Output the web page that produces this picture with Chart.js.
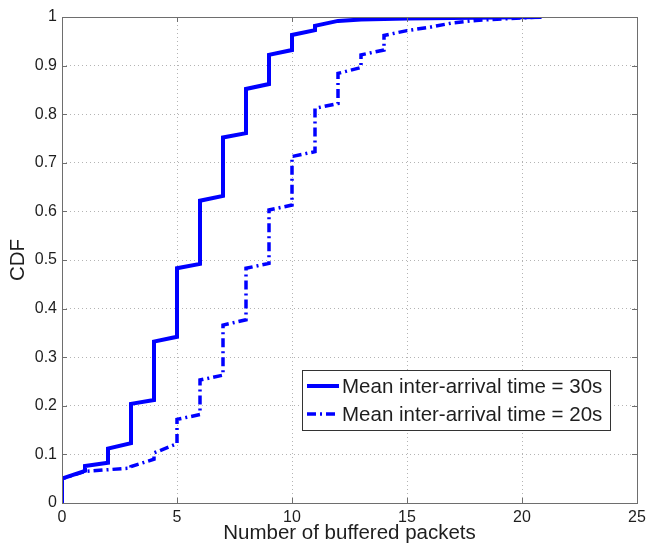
<!DOCTYPE html>
<html>
<head>
<meta charset="utf-8">
<script src="https://cdn.jsdelivr.net/npm/chart.js@4.4.1/dist/chart.umd.min.js"></script>
<style>
  html, body { margin: 0; padding: 0; background: #ffffff; }
  #wrap { width: 646px; height: 547px; }
</style>
</head>
<body>
<div id="wrap"><canvas id="c" width="646" height="547"></canvas></div>
<script>
// ---- Data ----
const seriesLabels = ['Mean inter-arrival time = 30s', 'Mean inter-arrival time = 20s'];

const x30 = [0, 0, 1, 1, 2, 2, 3, 3, 4, 4, 5, 5, 6, 6, 7, 7, 8, 8, 9, 9, 10, 10, 11, 11, 12, 13, 15, 20.85];
const y30 = [0, 0.05, 0.066, 0.076, 0.083, 0.112, 0.123, 0.204, 0.212, 0.332, 0.342, 0.483, 0.492, 0.622, 0.632, 0.752, 0.761, 0.852, 0.862, 0.922, 0.932, 0.963, 0.973, 0.982, 0.992, 0.995, 0.997, 1.0];

const x20 = [0, 0, 1, 3, 3, 4, 4, 5, 5, 6, 6, 7, 7, 8, 8, 9, 9, 10, 10, 11, 11, 12, 12, 13, 13, 14, 14, 15, 16, 17, 18, 20, 20.85];
const y20 = [0, 0.05, 0.065, 0.072, 0.075, 0.09, 0.103, 0.122, 0.172, 0.182, 0.253, 0.263, 0.366, 0.377, 0.483, 0.493, 0.603, 0.613, 0.713, 0.723, 0.812, 0.822, 0.884, 0.896, 0.922, 0.932, 0.962, 0.972, 0.979, 0.988, 0.993, 0.998, 1.0];

const xTicks = [0, 5, 10, 15, 20, 25];
const yTicks = [0, 0.1, 0.2, 0.3, 0.4, 0.5, 0.6, 0.7, 0.8, 0.9, 1];

const xTitle = 'Number of buffered packets';
const yTitle = 'CDF';

// ---- Build ----
function pts(xs, ys) { return xs.map((x, i) => ({ x: x, y: ys[i] })); }

const BLUE = '#0000ff';
const DASHDOT = [9, 4, 2, 4];
const FONT = "'Liberation Sans', Arial, sans-serif";
const TEXT = '#1e1e1e';

const boxPlugin = {
  id: 'boxPlugin',
  afterDraw(chart) {
    const ctx = chart.ctx;
    const a = chart.chartArea;
    const xs = chart.scales.x, ys = chart.scales.y;
    ctx.save();
    ctx.strokeStyle = '#6e6e6e';
    ctx.lineWidth = 1;
    ctx.setLineDash([]);
    ctx.strokeRect(Math.round(a.left) + 0.5, Math.round(a.top) + 0.5, Math.round(a.right - a.left), Math.round(a.bottom - a.top));
    const tl = 5;
    ctx.beginPath();
    xTicks.forEach(v => {
      const px = Math.round(xs.getPixelForValue(v)) + 0.5;
      ctx.moveTo(px, a.bottom); ctx.lineTo(px, a.bottom - tl);
      ctx.moveTo(px, a.top); ctx.lineTo(px, a.top + tl);
    });
    yTicks.forEach(v => {
      const py = Math.round(ys.getPixelForValue(v)) + 0.5;
      ctx.moveTo(a.left, py); ctx.lineTo(a.left + tl, py);
      ctx.moveTo(a.right, py); ctx.lineTo(a.right - tl, py);
    });
    ctx.stroke();

    // Legend box inside plot
    const lx = 302, ly = 370, lw = 308, lh = 60;
    ctx.fillStyle = '#ffffff';
    ctx.fillRect(lx, ly, lw, lh);
    ctx.strokeStyle = '#333333';
    ctx.strokeRect(lx + 0.5, ly + 0.5, lw, lh);
    ctx.font = '20.5px ' + FONT;
    ctx.textBaseline = 'middle';
    ctx.fillStyle = TEXT;
    chart.data.datasets.forEach((ds, i) => {
      const cy = ly + 16 + i * 28;
      ctx.strokeStyle = ds.borderColor;
      ctx.lineWidth = ds.borderWidth;
      ctx.setLineDash(ds.borderDash || []);
      ctx.beginPath();
      ctx.moveTo(lx + 5, cy); ctx.lineTo(lx + 37, cy);
      ctx.stroke();
      ctx.setLineDash([]);
      ctx.fillText(ds.label, lx + 40, cy + 1);
    });
    ctx.restore();
  }
};

new Chart(document.getElementById('c'), {
  type: 'scatter',
  data: {
    datasets: [
      { label: seriesLabels[0], data: pts(x30, y30), showLine: true, borderColor: BLUE, backgroundColor: BLUE, borderWidth: 4, pointRadius: 0, tension: 0, borderJoinStyle: 'miter' },
      { label: seriesLabels[1], data: pts(x20, y20), showLine: true, borderColor: BLUE, backgroundColor: BLUE, borderWidth: 3.5, borderDash: DASHDOT, pointRadius: 0, tension: 0 }
    ]
  },
  options: {
    responsive: false,
    animation: false,
    devicePixelRatio: 1,
    layout: { padding: { top: 17, right: 9, left: 0, bottom: 0 } },
    plugins: { legend: { display: false }, tooltip: { enabled: false } },
    scales: {
      x: {
        type: 'linear', min: 0, max: 25,
        afterBuildTicks: s => { s.ticks = xTicks.map(v => ({ value: v })); },
        afterFit: s => { s.height = 44; s.paddingLeft = 0; s.paddingRight = 0; },
        grid: { color: '#b4b4b4', lineWidth: 1, drawTicks: false },
        border: { display: false, dash: [1, 3] },
        ticks: { padding: 5, color: TEXT, font: { family: FONT, size: 16 }, maxRotation: 0 },
        title: { display: true, text: xTitle, color: TEXT, font: { family: FONT, size: 20.5 }, padding: { top: 0, bottom: 1 } }
      },
      y: {
        type: 'linear', min: 0, max: 1,
        afterBuildTicks: s => { s.ticks = yTicks.map(v => ({ value: v })); },
        afterFit: s => { s.width = 62; s.paddingTop = 0; s.paddingBottom = 0; },
        grid: { color: '#b4b4b4', lineWidth: 1, drawTicks: false },
        border: { display: false, dash: [1, 3] },
        ticks: { padding: 5, color: TEXT, font: { family: FONT, size: 16 }, callback: v => String(Math.round(v * 10) / 10) },
        title: { display: true, text: yTitle, color: TEXT, font: { family: FONT, size: 20.5 }, padding: { top: 6, bottom: 0 } }
      }
    }
  },
  plugins: [boxPlugin]
});
</script>
</body>
</html>
